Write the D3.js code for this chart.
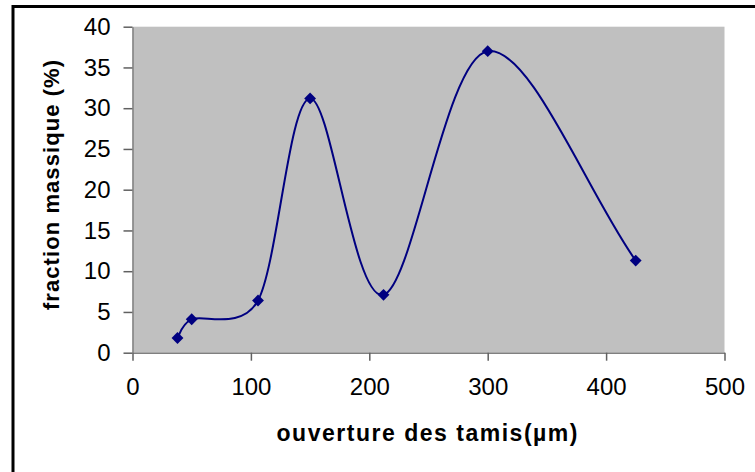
<!DOCTYPE html>
<html><head><meta charset="utf-8">
<script src="https://cdn.jsdelivr.net/npm/d3@7"></script>
<style>
html,body{margin:0;padding:0;background:#fff;}
svg{display:block;}
text{font-family:"Liberation Sans",Arial,sans-serif;}
</style></head>
<body>
<script>
// Data
const sieveOpening = [38, 50, 106, 150, 212, 300, 425];
const massFraction = [1.8, 4.1, 6.4, 31.2, 7.1, 37.0, 11.3];
const xTicks = [0, 100, 200, 300, 400, 500];
const yTicks = [0, 5, 10, 15, 20, 25, 30, 35, 40];
const xTitle = "ouverture des tamis(µm)";
const yTitle = "fraction massique (%)";

(function () {
const W = 755, H = 472;
const svg = d3.select("body").append("svg").attr("width", W).attr("height", H);

// outer chart border
svg.append("rect").attr("x", 13).attr("y", 6.5).attr("width", 760).attr("height", 480)
  .attr("fill", "#fff").attr("stroke", "#000").attr("stroke-width", 3);

const pL = 132.5, pR = 724.5, pT = 26.7, pB = 352.7;
const x = d3.scaleLinear().domain([0, 500]).range([pL, pR]);
const y = d3.scaleLinear().domain([0, 40]).range([pB, pT]);

svg.append("rect").attr("x", pL).attr("y", pT).attr("width", pR - pL).attr("height", pB - pT)
  .attr("fill", "#c0c0c0");

// axes
const xAxis = d3.axisBottom(x).tickValues(xTicks).tickSize(8).tickPadding(17).tickSizeOuter(0);
const yAxis = d3.axisLeft(y).tickValues(yTicks).tickSize(9).tickPadding(13).tickSizeOuter(0);
const gx = svg.append("g").attr("transform", `translate(0,${pB})`).call(xAxis);
const gy = svg.append("g").attr("transform", `translate(${pL},0)`).call(yAxis);
[gx, gy].forEach(g => {
  g.select(".domain").attr("stroke", "#808080").attr("stroke-width", 1.5);
  g.selectAll(".tick line").attr("stroke", "#606060").attr("stroke-width", 1.5);
  g.selectAll(".tick text").attr("fill", "#000").attr("font-size", 24).attr("font-family", "'Liberation Sans',Arial,sans-serif");
});

// Excel-like smoothing curve
function ExcelSmooth(context) { this._context = context; }
ExcelSmooth.prototype = {
  areaStart() {}, areaEnd() {},
  lineStart() { this._pts = []; },
  point(px, py) { this._pts.push([+px, +py]); },
  lineEnd() {
    const p = this._pts, c = this._context, n = p.length;
    if (!n) return;
    c.moveTo(p[0][0], p[0][1]);
    const d = (a, b) => Math.hypot(a[0] - b[0], a[1] - b[1]);
    for (let i = 0; i < n - 1; i++) {
      const p0 = p[Math.max(0, i - 1)], p1 = p[i], p2 = p[i + 1], p3 = p[Math.min(n - 1, i + 2)];
      const d02 = d(p0, p2) || 1e-9, d12 = d(p1, p2), d13 = d(p1, p3) || 1e-9;
      let f1, f2;
      const a = d02 / 6 < d12 / 2, b = d13 / 6 < d12 / 2;
      if (a && b) {
        f1 = (i === 0) ? 1 / 3 : 1 / 6;
        f2 = (i + 2 > n - 1) ? 1 / 3 : 1 / 6;
      } else if (!a && !b) {
        f1 = d12 / 2 / d02; f2 = d12 / 2 / d13;
      } else if (!a) {
        f1 = d12 / 2 / d02; f2 = d12 / 2 / d13 * (d13 / d02);
      } else {
        f1 = d12 / 2 / d02 * (d02 / d13); f2 = d12 / 2 / d13;
      }
      const b1 = [p1[0] + (p2[0] - p0[0]) * f1, p1[1] + (p2[1] - p0[1]) * f1];
      const b2 = [p2[0] - (p3[0] - p1[0]) * f2, p2[1] - (p3[1] - p1[1]) * f2];
      c.bezierCurveTo(b1[0], b1[1], b2[0], b2[1], p2[0], p2[1]);
    }
  }
};
const excelCurve = ctx => new ExcelSmooth(ctx);

const data = sieveOpening.map((v, i) => ({ x: v, y: massFraction[i] }));
const line = d3.line().x(d => x(d.x)).y(d => y(d.y)).curve(excelCurve);
svg.append("path").datum(data).attr("d", line).attr("fill", "none")
  .attr("stroke", "#000080").attr("stroke-width", 2);

svg.selectAll(".pt").data(data).enter().append("path")
  .attr("d", d3.symbol().type(d3.symbolSquare).size(70))
  .attr("transform", d => `translate(${x(d.x)},${y(d.y)}) rotate(45)`)
  .attr("fill", "#000080");

// titles
svg.append("text").attr("x", 276.5).attr("y", 441)
  .attr("font-weight", "bold").attr("font-size", 23)
  .attr("textLength", 301).attr("lengthAdjust", "spacing").text(xTitle);
svg.append("text").attr("transform", `translate(58.5,310) rotate(-90)`)
  .attr("font-weight", "bold").attr("font-size", 22)
  .attr("textLength", 250).attr("lengthAdjust", "spacing").text(yTitle);
})();
</script>
</body></html>
